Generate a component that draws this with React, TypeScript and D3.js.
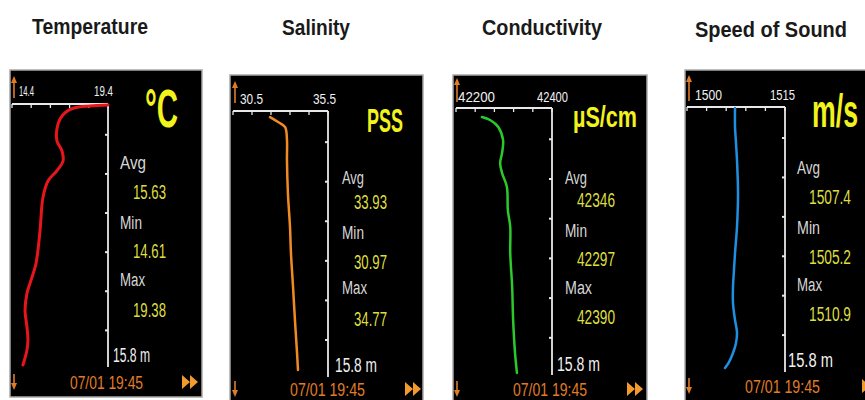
import React from "react";
import * as d3 from "d3";

// ---------- data ----------
const titles = ["Temperature", "Salinity", "Conductivity", "Speed of Sound"];
const units = ["°C", "PSS", "µS/cm", "m/s"];
const axisMin = [14.4, 30.5, 42200, 1500];
const axisMax = [19.4, 35.5, 42400, 1515];
const axisMinLabels = ["14.4", "30.5", "42200", "1500"];
const axisMaxLabels = ["19.4", "35.5", "42400", "1515"];
const avgLabels = ["15.63", "33.93", "42346", "1507.4"];
const minLabels = ["14.61", "30.97", "42297", "1505.2"];
const maxLabels = ["19.38", "34.77", "42390", "1510.9"];
const depthMax = 15.8;
const depthLabel = "15.8 m";
const timeLabel = "07/01  19:45";

const tempDepth = [0.06, 0.12, 0.24, 0.48, 0.9, 1.5, 2.21, 2.81, 3.41, 4.01, 4.61, 5.63, 7.6, 9.58, 10.41, 11.37, 12.39, 13.41, 14.18, 14.78, 15.68];
const tempValues = [19.4, 18.46, 17.63, 17.21, 16.9, 16.74, 16.74, 17.0, 17.06, 16.74, 16.28, 16.01, 15.86, 15.65, 15.44, 15.18, 15.08, 15.18, 15.23, 15.18, 14.97];

const salDepth = [0.36, 0.65, 0.95, 1.72, 2.91, 4.87, 6.89, 8.43, 10.45, 12.41, 14.37, 15.38];
const salValues = [32.45, 32.87, 33.24, 33.34, 33.34, 33.39, 33.5, 33.55, 33.66, 33.76, 33.87, 33.92];

const condDepth = [0.53, 0.71, 1.12, 1.89, 2.66, 3.25, 3.85, 4.67, 6.04, 7.04, 8.58, 10.59, 12.54, 14.5, 15.68];
const condValues = [42254, 42271, 42288, 42298, 42296, 42292, 42296, 42306, 42308, 42313, 42313, 42317, 42319, 42323, 42327];

const sosDepth = [0.06, 1.19, 2.15, 3.16, 5.13, 7.16, 8.71, 9.72, 10.73, 11.69, 12.7, 13.42, 14.07, 14.67, 15.21, 15.56];
const sosValues = [1507.35, 1507.35, 1507.5, 1507.65, 1507.81, 1507.65, 1507.35, 1507.19, 1507.04, 1507.04, 1507.35, 1507.65, 1507.5, 1507.04, 1506.43, 1505.82];

const seriesDepths = [tempDepth, salDepth, condDepth, sosDepth];
const seriesValues = [tempValues, salValues, condValues, sosValues];
const seriesColors = ["#e8161c", "#f08a22", "#2cc92c", "#1f8fe2"];

// ---------- layout (per photographed panel) ----------
type Layout = {
  box: number[]; plot: number[]; titleCx: number; titleY: number; titleW: number;
  unit: { x: number; y: number; w: number; size: number };
  tickY: number; lo: number[]; hi: number[];
  labelX: number; valX: number; statY: number[]; labelW: number[]; valW: number;
  depth: number[]; bottomY: number; date: number[]; arrowX: number; upArrow: number[]; ffX: number;
  lineW: number;
};
const layouts: Layout[] = [
  {
    box: [10, 70, 202, 397], plot: [12, 104, 108, 367], titleCx: 90, titleY: 34, titleW: 116,
    unit: { x: 145, y: 127, w: 33, size: 54 },
    tickY: 96, lo: [19, 15], hi: [94, 19],
    labelX: 120, valX: 133, statY: [169, 199, 229, 258, 286, 317], labelW: [26, 22, 25], valW: 33,
    depth: [113, 362, 37], bottomY: 389, date: [70, 73], arrowX: 14, upArrow: [76, 98], ffX: 182,
    lineW: 3,
  },
  {
    box: [230, 75, 423, 404], plot: [233, 111, 328, 377], titleCx: 316, titleY: 35, titleW: 68,
    unit: { x: 367, y: 132, w: 36, size: 33 },
    tickY: 104, lo: [240, 23], hi: [313, 23],
    labelX: 342, valX: 354, statY: [184, 209, 239, 269, 294, 326], labelW: [22, 22, 25], valW: 33,
    depth: [335, 372, 42], bottomY: 396, date: [290, 75], arrowX: 235, upArrow: [81, 103], ffX: 405,
    lineW: 2.5,
  },
  {
    box: [453, 75, 647, 404], plot: [456, 108, 552, 375], titleCx: 542, titleY: 35, titleW: 120,
    unit: { x: 573, y: 127, w: 64, size: 29 },
    tickY: 102, lo: [458, 37], hi: [537, 31],
    labelX: 565, valX: 577, statY: [184, 207, 237, 266, 294, 324], labelW: [22, 22, 27], valW: 38,
    depth: [557, 371, 43], bottomY: 396, date: [513, 74], arrowX: 457, upArrow: [78, 102], ffX: 627,
    lineW: 2.5,
  },
  {
    box: [685, 70, 880, 404], plot: [687, 107, 785, 372], titleCx: 771, titleY: 37, titleW: 152,
    unit: { x: 812, y: 127, w: 46, size: 46 },
    tickY: 100, lo: [695, 27], hi: [770, 25],
    labelX: 797, valX: 809, statY: [174, 204, 234, 264, 291, 321], labelW: [23, 23, 25], valW: 42,
    depth: [788, 367, 45], bottomY: 393, date: [745, 75], arrowX: 689, upArrow: [75, 101], ffX: 862,
    lineW: 2.5,
  },
];

const FONT = "'Liberation Sans', Arial, sans-serif";
const ORANGE = "#e07c26";
const YELLOW = "#dede3e";
const GRAY = "#d6d6d6";

function T(props: {
  x: number; y: number; w: number; size: number; fill: string; weight?: string; children: React.ReactNode;
}) {
  return (
    <text
      x={props.x}
      y={props.y}
      fontSize={props.size}
      fill={props.fill}
      fontFamily={FONT}
      fontWeight={props.weight || "normal"}
      textLength={props.w}
      lengthAdjust="spacingAndGlyphs"
    >
      {props.children}
    </text>
  );
}

function Panel({ i }: { i: number }) {
  const L = layouts[i];
  const [bx0, by0, bx1, by1] = L.box;
  const [px0, py0, px1, py1] = L.plot;
  const x = d3.scaleLinear().domain([axisMin[i], axisMax[i]]).range([px0, px1]);
  const y = d3.scaleLinear().domain([0, depthMax]).range([py0, py1]);
  const xTicks = d3.range(6).map((k) => axisMin[i] + (k * (axisMax[i] - axisMin[i])) / 5);
  const yTicks = d3.range(6).map((k) => 1.85 + k * 2.35);
  const pts: [number, number][] = seriesDepths[i].map((d, j) => [seriesValues[i][j], d]);
  const line = d3
    .line<[number, number]>()
    .x((p) => x(p[0]))
    .y((p) => y(p[1]))
    .curve(d3.curveCatmullRom.alpha(0.5));
  const statTexts = [
    ["Avg", avgLabels[i]],
    ["Min", minLabels[i]],
    ["Max", maxLabels[i]],
  ];
  const [ua0, ua1] = L.upArrow;
  const ax = L.arrowX;
  const ff = L.ffX;
  const fy = L.bottomY;
  return (
    <g>
      <text
        x={L.titleCx}
        y={L.titleY}
        textAnchor="middle"
        fontSize={22}
        fontWeight="bold"
        fill="#1a1a1a"
        fontFamily={FONT}
        textLength={L.titleW}
        lengthAdjust="spacingAndGlyphs"
      >
        {titles[i]}
      </text>
      <rect x={bx0} y={by0} width={bx1 - bx0} height={by1 - by0} fill="#000" stroke="#a8a8a8" strokeWidth={1.5} />
      {/* up arrow */}
      <path d={`M${ax},${ua1} L${ax},${ua0 + 5}`} stroke={ORANGE} strokeWidth={1.6} />
      <path d={`M${ax - 3},${ua0 + 7} L${ax},${ua0} L${ax + 3},${ua0 + 7} Z`} fill={ORANGE} />
      {/* tick labels */}
      <T x={L.lo[0]} y={L.tickY} w={L.lo[1]} size={15} fill="#f0f0f0">{axisMinLabels[i]}</T>
      <T x={L.hi[0]} y={L.tickY} w={L.hi[1]} size={15} fill="#f0f0f0">{axisMaxLabels[i]}</T>
      {/* top axis */}
      <line x1={px0} x2={px1} y1={py0} y2={py0} stroke="#e8e8e8" strokeWidth={2} />
      {xTicks.map((t, k) => (
        <line key={k} x1={x(t)} x2={x(t)} y1={py0} y2={py0 + 4} stroke="#e8e8e8" strokeWidth={1.3} />
      ))}
      {/* right axis */}
      <line x1={px1} x2={px1} y1={py0} y2={py1} stroke="#e8e8e8" strokeWidth={1.8} />
      {yTicks.map((t, k) => (
        <line key={k} x1={px1 - 3} x2={px1} y1={y(t)} y2={y(t)} stroke="#e8e8e8" strokeWidth={2} />
      ))}
      {/* profile */}
      <path d={line(pts) || ""} fill="none" stroke={seriesColors[i]} strokeWidth={L.lineW} strokeLinecap="round" strokeLinejoin="round" />
      {/* unit */}
      <T x={L.unit.x} y={L.unit.y} w={L.unit.w} size={L.unit.size} fill="#f2f21c" weight="bold">{units[i]}</T>
      {/* stats */}
      {statTexts.map((s, k) => (
        <g key={k}>
          <T x={L.labelX} y={L.statY[k * 2]} w={L.labelW[k]} size={18} fill={GRAY}>{s[0]}</T>
          <T x={L.valX} y={L.statY[k * 2 + 1]} w={L.valW} size={20} fill={YELLOW}>{s[1]}</T>
        </g>
      ))}
      <T x={L.depth[0]} y={L.depth[1]} w={L.depth[2]} size={20} fill="#f0f0f0">{depthLabel}</T>
      {/* bottom row */}
      <path d={`M${ax},${fy - 15} L${ax},${fy - 4}`} stroke={ORANGE} strokeWidth={1.6} />
      <path d={`M${ax - 3},${fy - 6} L${ax},${fy + 1} L${ax + 3},${fy - 6} Z`} fill={ORANGE} />
      <T x={L.date[0]} y={fy} w={L.date[1]} size={18} fill={ORANGE}>{timeLabel}</T>
      <path d={`M${ff},${fy - 14} L${ff + 8},${fy - 7} L${ff},${fy} Z M${ff + 8},${fy - 14} L${ff + 16},${fy - 7} L${ff + 8},${fy} Z`} fill="#f39a2c" />
    </g>
  );
}

export default function App() {
  return (
    <svg width={865} height={400} style={{ position: "absolute", left: 0, top: 0, background: "#fff" }}>
      <rect x={0} y={0} width={865} height={400} fill="#fff" />
      {titles.map((_, i) => (
        <Panel key={i} i={i} />
      ))}
    </svg>
  );
}
